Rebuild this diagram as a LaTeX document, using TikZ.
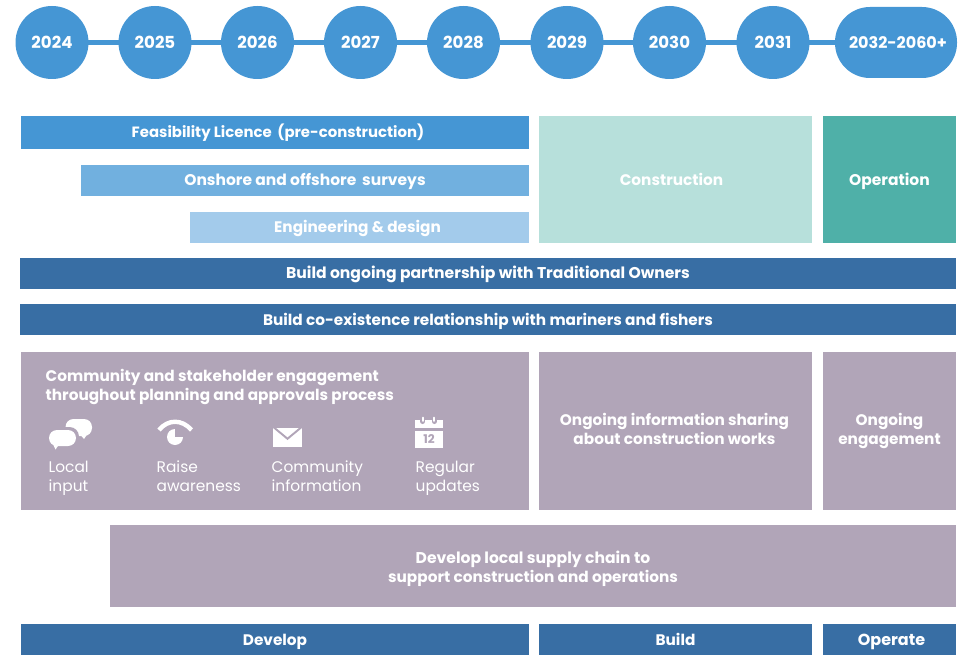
\documentclass[tikz,border=0pt]{standalone}
\usepackage{fontspec}
\setmainfont{Poppins}
\definecolor{cblue}{HTML}{4596D4}
\definecolor{cmid}{HTML}{71B0DF}
\definecolor{clight}{HTML}{A3CBEB}
\definecolor{cdark}{HTML}{386EA4}
\definecolor{cmauve}{HTML}{B1A5B8}
\definecolor{cpale}{HTML}{B7E0DB}
\definecolor{cteal}{HTML}{4FB0A8}
\pgfdeclarelayer{links}
\pgfsetlayers{links,main}
\newcommand{\barstrut}{\rule[-4.6pt]{0pt}{19pt}}
\newcommand{\yearstrut}{\rule[-3.6pt]{0pt}{19pt}}
\newcommand{\fz}[1]{\fontsize{#1}{19}\selectfont}
\tikzset{x=1pt,y=-1pt,
  bartext/.style={text=white,font=\fontsize{15.3}{19}\selectfont\bfseries,align=center,inner sep=0pt,
    execute at begin node=\barstrut,execute at end node=\barstrut},
  yeartext/.style={text=white,align=center,inner sep=0pt,
    execute at begin node=\yearstrut,execute at end node=\yearstrut},
  box/.style={rectangle,draw=none,inner sep=0pt},
  year/.style={yeartext,font=\fontsize{16.6}{19}\selectfont\bfseries,circle,fill=cblue,minimum size=73pt},
  pill/.style={yeartext,font=\fontsize{16}{19}\selectfont\bfseries,rectangle,rounded corners=35pt,fill=cblue,minimum width=122pt,minimum height=71pt},
  link/.style={cblue,line width=5pt},
  thin/.style={text=white,font=\fontsize{15.4}{19}\selectfont,align=left,inner sep=0pt,anchor=north west},
}
% \bx[text offset]{name}{x0}{y0}{x1}{y1}{colour}{text}
\newcommand{\bx}[8][(0,0)]{\node[box,fill=#7,minimum width=#5pt-#3pt,minimum height=#6pt-#4pt] (#2) at ({(#3+#5)/2},{(#4+#6)/2}) {};
  \path (#2.center) ++#1 node[bartext] (#2t) {#8};}
\begin{document}
\begin{tikzpicture}
\useasboundingbox (0,0) rectangle (966,655);
\node[year] (y24) at (52,42.5) {2024};
\node[year] (y25) at (155,42.5) {2025};
\node[year] (y26) at (257.5,42.5) {2026};
\node[year] (y27) at (360.5,42.5) {2027};
\node[year] (y28) at (463.5,42.5) {2028};
\node[year] (y29) at (567,42.5) {2029};
\node[year] (y30) at (669.5,42.5) {2030};
\node[year] (y31) at (773,42.5) {2031};
\node[pill] (y32) at (896,42.5) {\hspace*{4pt}2032-2060+};
\begin{pgfonlayer}{links}
\foreach \a/\b in {y24/y25,y25/y26,y26/y27,y27/y28,y28/y29,y29/y30,y30/y31,y31/y32}
  \draw[link] (\a.center) -- (\b.center);
\end{pgfonlayer}
\bx[(3,0.5)]{fe}{21}{116}{529}{149}{cblue}{\fz{14.9}Feasibility Licence\, (pre-construction)}
\bx[(0,0.5)]{su}{81}{165}{529}{196}{cmid}{\fz{15.5}Onshore and offshore\, surveys}
\bx[(-2,0)]{en}{190}{212}{529}{243}{clight}{Engineering \& design}
\bx[(-4,1.5)]{co}{539}{116}{812}{243}{cpale}{Construction}
\bx[(0,1.5)]{op}{823}{116}{956}{243}{cteal}{\fz{15.5}Operation}
\bx{to}{20}{258}{956}{289}{cdark}{\fz{15.6}Build ongoing partnership with Traditional Owners}
\bx[(0,1)]{ma}{20}{304}{956}{335}{cdark}{Build co-existence relationship with mariners and fishers}
\bx{cs}{21}{352}{529}{510}{cmauve}{}
\bx[(-1,0)]{in}{539}{352}{812}{510}{cmauve}{Ongoing information sharing\\about construction works}
\bx{oe}{823}{352}{956}{510}{cmauve}{Ongoing\\engagement}
\bx[(0,3)]{sc}{110}{525}{956}{607}{cmauve}{{\fz{15.6}Develop local supply chain to}\\support construction and operations}
\bx[(0,1.5)]{de}{21}{624}{529}{655}{cdark}{Develop}
\bx[(0,1.5)]{bu}{539}{624}{812}{655}{cdark}{Build}
\bx[(2,1.5)]{opr}{823}{624}{956}{655}{cdark}{\fz{16}Operate}
\node[bartext,align=left,anchor=north west] (cst) at (45.5,369.5) {Community and stakeholder engagement\\throughout planning and approvals process};
\node[thin] (l1) at (48.5,460.5) {Local\\input};
\node[thin] (l2) at (156.5,460.5) {Raise\\awareness};
\node[thin] (l3) at (271.5,460.5) {Community\\information};
\node[thin] (l4) at (415.5,460.5) {Regular\\updates};
% speech bubbles
\fill[white,rounded corners=8pt] (65.5,419) rectangle (92,436);
\fill[white] (79,433) -- (84,439) -- (88,433) -- cycle;
\fill[cmauve,rounded corners=9.5pt] (46,427) rectangle (79,449);
\fill[cmauve] (52,444) -- (55.5,452) -- (62,444) -- cycle;
\fill[white,rounded corners=8pt] (49,430) rectangle (76,446);
\fill[white] (52.5,443) -- (55.5,449.5) -- (60,443) -- cycle;
% raise awareness eye
\draw[white,line width=4.4pt] (159,430) .. controls (168,419) and (182,419) .. (191.5,430);
\fill[white] (175,437) circle[radius=8];
\fill[cmauve] (175,437) rectangle (184,428);
% envelope
\fill[white] (273,428) rectangle (302,447);
\fill[cmauve] (273,428) -- (287.5,440) -- (302,428) -- (299,428) -- (287.5,437.5) -- (276,428) -- cycle;
% calendar
\fill[white] (415,420) rectangle (443,427.5);
\fill[white] (415,430.5) rectangle (443,447.5);
\foreach \q in {422.7,434.2}{
  \draw[cmauve,line width=5pt,line cap=round] (\q,417) -- (\q,421.5);
  \draw[white,line width=1.6pt,line cap=round] (\q,417.5) -- (\q,421);}
\node[text=cmauve,font=\fontsize{12}{12}\selectfont\bfseries,inner sep=0pt] (d12) at (429,439) {12};
\end{tikzpicture}
\end{document}
